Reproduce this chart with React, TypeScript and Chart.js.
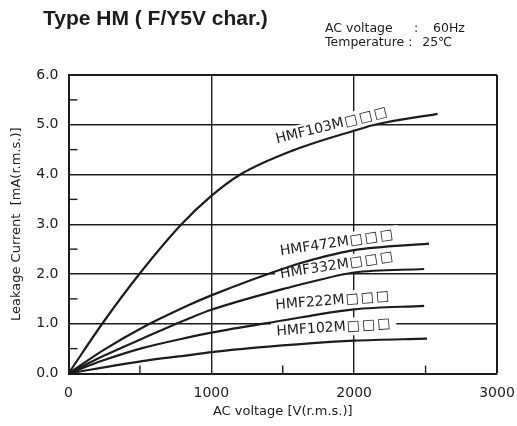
import React, { useEffect, useRef } from "react";
import { Chart, registerables } from "chart.js";

Chart.register(...registerables);

// ---- axis ticks ----
const xTickValues = [0, 1000, 2000, 3000];
const yTickValues = [0, 1, 2, 3, 4, 5, 6];
const xMinorTicks = [500, 1500, 2500];
const yMinorTicks = [0.5, 1.5, 2.5, 3.5, 4.5, 5.5];

// ---- series (AC voltage [V], leakage current [mA]) ----
const seriesCodes = ["HMF103M", "HMF472M", "HMF332M", "HMF222M", "HMF102M"];
const codeSuffix = "□□□";

const v103 = [0, 236, 496, 791, 1000, 1203, 1568, 2000, 2145, 2584];
const i103 = [0, 1.0, 2.0, 3.0, 3.57, 4.0, 4.48, 4.88, 5.0, 5.22];

const v472 = [0, 250, 516, 847, 1000, 1570, 1710, 2000, 2524];
const i472 = [0, 0.48, 0.92, 1.38, 1.57, 2.17, 2.29, 2.48, 2.61];

const v332 = [0, 250, 516, 847, 1000, 1570, 1710, 2000, 2490];
const i332 = [0, 0.36, 0.7, 1.11, 1.28, 1.75, 1.85, 2.03, 2.1];

const v222 = [0, 250, 516, 847, 1000, 1570, 1710, 2000, 2490];
const i222 = [0, 0.27, 0.51, 0.73, 0.82, 1.1, 1.17, 1.29, 1.36];

const v102 = [0, 516, 847, 1000, 1710, 2000, 2510];
const i102 = [0, 0.25, 0.37, 0.43, 0.61, 0.66, 0.7];

const seriesV = [v103, v472, v332, v222, v102];
const seriesI = [i103, i472, i332, i222, i102];

// ---- in-plot curve labels (anchored in data units) ----
const labelAnchorV = [1845, 1880, 1880, 1850, 1858];
const labelAnchorI = [4.98, 2.62, 2.17, 1.46, 0.92];
const labelAngleDeg = [-14, -8.5, -9, -4.7, -4];

// ---- texts ----
const titleText = "Type HM ( F/Y5V char.)";
const condLabels = ["AC voltage", "Temperature"];
const condValues = ["60Hz", "25℃"];
const xTitle = "AC voltage [V(r.m.s.)]";
const yTitle = "Leakage Current  [mA(r.m.s.)]";

const INK = "#1c1c1c";
const FONT = "'DejaVu Sans', sans-serif";
const CODE_FONT = `14px ${FONT}`;
const BOX_FONT = `14px ${FONT}`;
const BOX_SPACING = "2px";

function measureLabel(ctx: any, k: number) {
  ctx.font = CODE_FONT;
  (ctx as any).letterSpacing = "0px";
  const w1 = ctx.measureText(seriesCodes[k]).width;
  ctx.font = BOX_FONT;
  (ctx as any).letterSpacing = BOX_SPACING;
  const w2 = ctx.measureText(codeSuffix).width;
  (ctx as any).letterSpacing = "0px";
  return { w1, w2, w: w1 + w2 };
}

const decorPlugin = {
  id: "decor",
  beforeDatasetsDraw(chart: any) {
    const { ctx, chartArea, scales } = chart;
    const x = scales.x;
    const y = scales.y;
    ctx.save();
    ctx.strokeStyle = INK;
    ctx.lineWidth = 1.4;
    yMinorTicks.forEach((v) => {
      const py = y.getPixelForValue(v);
      ctx.beginPath();
      ctx.moveTo(chartArea.left, py);
      ctx.lineTo(chartArea.left + 9, py);
      ctx.stroke();
    });
    xMinorTicks.forEach((v) => {
      const px = x.getPixelForValue(v);
      ctx.beginPath();
      ctx.moveTo(px, chartArea.bottom);
      ctx.lineTo(px, chartArea.bottom - 8);
      ctx.stroke();
    });
    // white backgrounds behind the curve labels
    seriesCodes.forEach((_, k) => {
      const px = x.getPixelForValue(labelAnchorV[k]);
      const py = y.getPixelForValue(labelAnchorI[k]);
      const { w } = measureLabel(ctx, k);
      ctx.save();
      ctx.translate(px, py);
      ctx.rotate((labelAngleDeg[k] * Math.PI) / 180);
      ctx.fillStyle = "#ffffff";
      ctx.fillRect(-w / 2 - 5, -9, w + 10, 18);
      ctx.restore();
    });
    ctx.restore();
  },
  afterDatasetsDraw(chart: any) {
    const { ctx, scales } = chart;
    const x = scales.x;
    const y = scales.y;
    ctx.save();
    ctx.fillStyle = INK;
    ctx.textAlign = "left";
    ctx.textBaseline = "middle";
    seriesCodes.forEach((code, k) => {
      const px = x.getPixelForValue(labelAnchorV[k]);
      const py = y.getPixelForValue(labelAnchorI[k]);
      const { w1, w } = measureLabel(ctx, k);
      ctx.save();
      ctx.translate(px, py);
      ctx.rotate((labelAngleDeg[k] * Math.PI) / 180);
      ctx.font = CODE_FONT;
      (ctx as any).letterSpacing = "0px";
      ctx.fillText(code, -w / 2, 0);
      ctx.font = BOX_FONT;
      (ctx as any).letterSpacing = BOX_SPACING;
      ctx.fillText(codeSuffix, -w / 2 + w1 + 1, 0);
      (ctx as any).letterSpacing = "0px";
      ctx.restore();
    });
    ctx.restore();
  },
  afterDraw(chart: any) {
    const { ctx } = chart;
    ctx.save();
    ctx.fillStyle = INK;
    ctx.textBaseline = "alphabetic";
    ctx.textAlign = "left";
    ctx.font = `bold 21px 'Liberation Sans', sans-serif`;
    ctx.fillText(titleText, 43, 25);
    ctx.font = `12.5px ${FONT}`;
    const rows = [31.5, 46];
    condLabels.forEach((lab, k) => {
      ctx.fillText(lab, 325, rows[k]);
    });
    ctx.fillText(":", 414, rows[0]);
    ctx.fillText(condValues[0], 433, rows[0]);
    const tEnd = 325 + ctx.measureText(condLabels[1]).width;
    ctx.fillText(":", tEnd + 4, rows[1]);
    ctx.fillText(condValues[1], tEnd + 18, rows[1]);
    ctx.restore();
  },
};

export default function App() {
  const canvasRef = useRef<HTMLCanvasElement | null>(null);

  useEffect(() => {
    if (!canvasRef.current) return;
    const datasets = seriesCodes.map((code, k) => ({
      label: code + codeSuffix,
      data: seriesV[k].map((v, j) => ({ x: v, y: seriesI[k][j] })),
      borderColor: INK,
      borderWidth: 2.2,
      pointRadius: 0,
      fill: false,
      cubicInterpolationMode: "monotone" as const,
    }));

    const chart = new Chart(canvasRef.current, {
      type: "line",
      data: { datasets },
      options: {
        responsive: false,
        animation: false,
        layout: { padding: { top: 75, right: 20, left: 0, bottom: 0 } },
        plugins: {
          legend: { display: false },
          tooltip: { enabled: false },
        },
        scales: {
          x: {
            type: "linear",
            min: 0,
            max: 3000,
            afterBuildTicks: (s: any) => {
              s.ticks = xTickValues.map((v) => ({ value: v }));
            },
            ticks: {
              color: INK,
              font: { family: FONT, size: 14 },
              padding: 11,
              maxRotation: 0,
              callback: (v: any) => String(v),
            },
            grid: {
              color: INK,
              lineWidth: (c: any) => (c.tick && c.tick.value === 3000 ? 2 : 1.4),
              drawTicks: false,
            },
            border: { color: INK, width: 2 },
            title: {
              display: true,
              text: xTitle,
              color: INK,
              font: { family: FONT, size: 13 },
              padding: { top: 0, bottom: 7 },
            },
            afterFit: (s: any) => {
              s.height = 52.5;
              s.paddingRight = 0;
              s.paddingLeft = 0;
            },
          },
          y: {
            type: "linear",
            min: 0,
            max: 6,
            afterBuildTicks: (s: any) => {
              s.ticks = yTickValues.map((v) => ({ value: v }));
            },
            ticks: {
              color: INK,
              font: { family: FONT, size: 14 },
              padding: 10,
              callback: (v: any) => Number(v).toFixed(1),
            },
            grid: {
              color: INK,
              lineWidth: (c: any) => (c.tick && c.tick.value === 6 ? 2 : 1.4),
              drawTicks: false,
            },
            border: { color: INK, width: 2 },
            title: {
              display: true,
              text: yTitle,
              color: INK,
              font: { family: FONT, size: 13 },
              padding: { top: 9, bottom: 0 },
            },
            afterFit: (s: any) => {
              s.width = 68.5;
              s.paddingTop = 0;
              s.paddingBottom = 0;
            },
          },
        },
      },
      plugins: [decorPlugin],
    });
    return () => chart.destroy();
  }, []);

  return (
    <div style={{ position: "absolute", left: 0, top: 0, width: 517, height: 426, background: "#fff" }}>
      <canvas ref={canvasRef} width={517} height={426} style={{ width: 517, height: 426 }} />
    </div>
  );
}
